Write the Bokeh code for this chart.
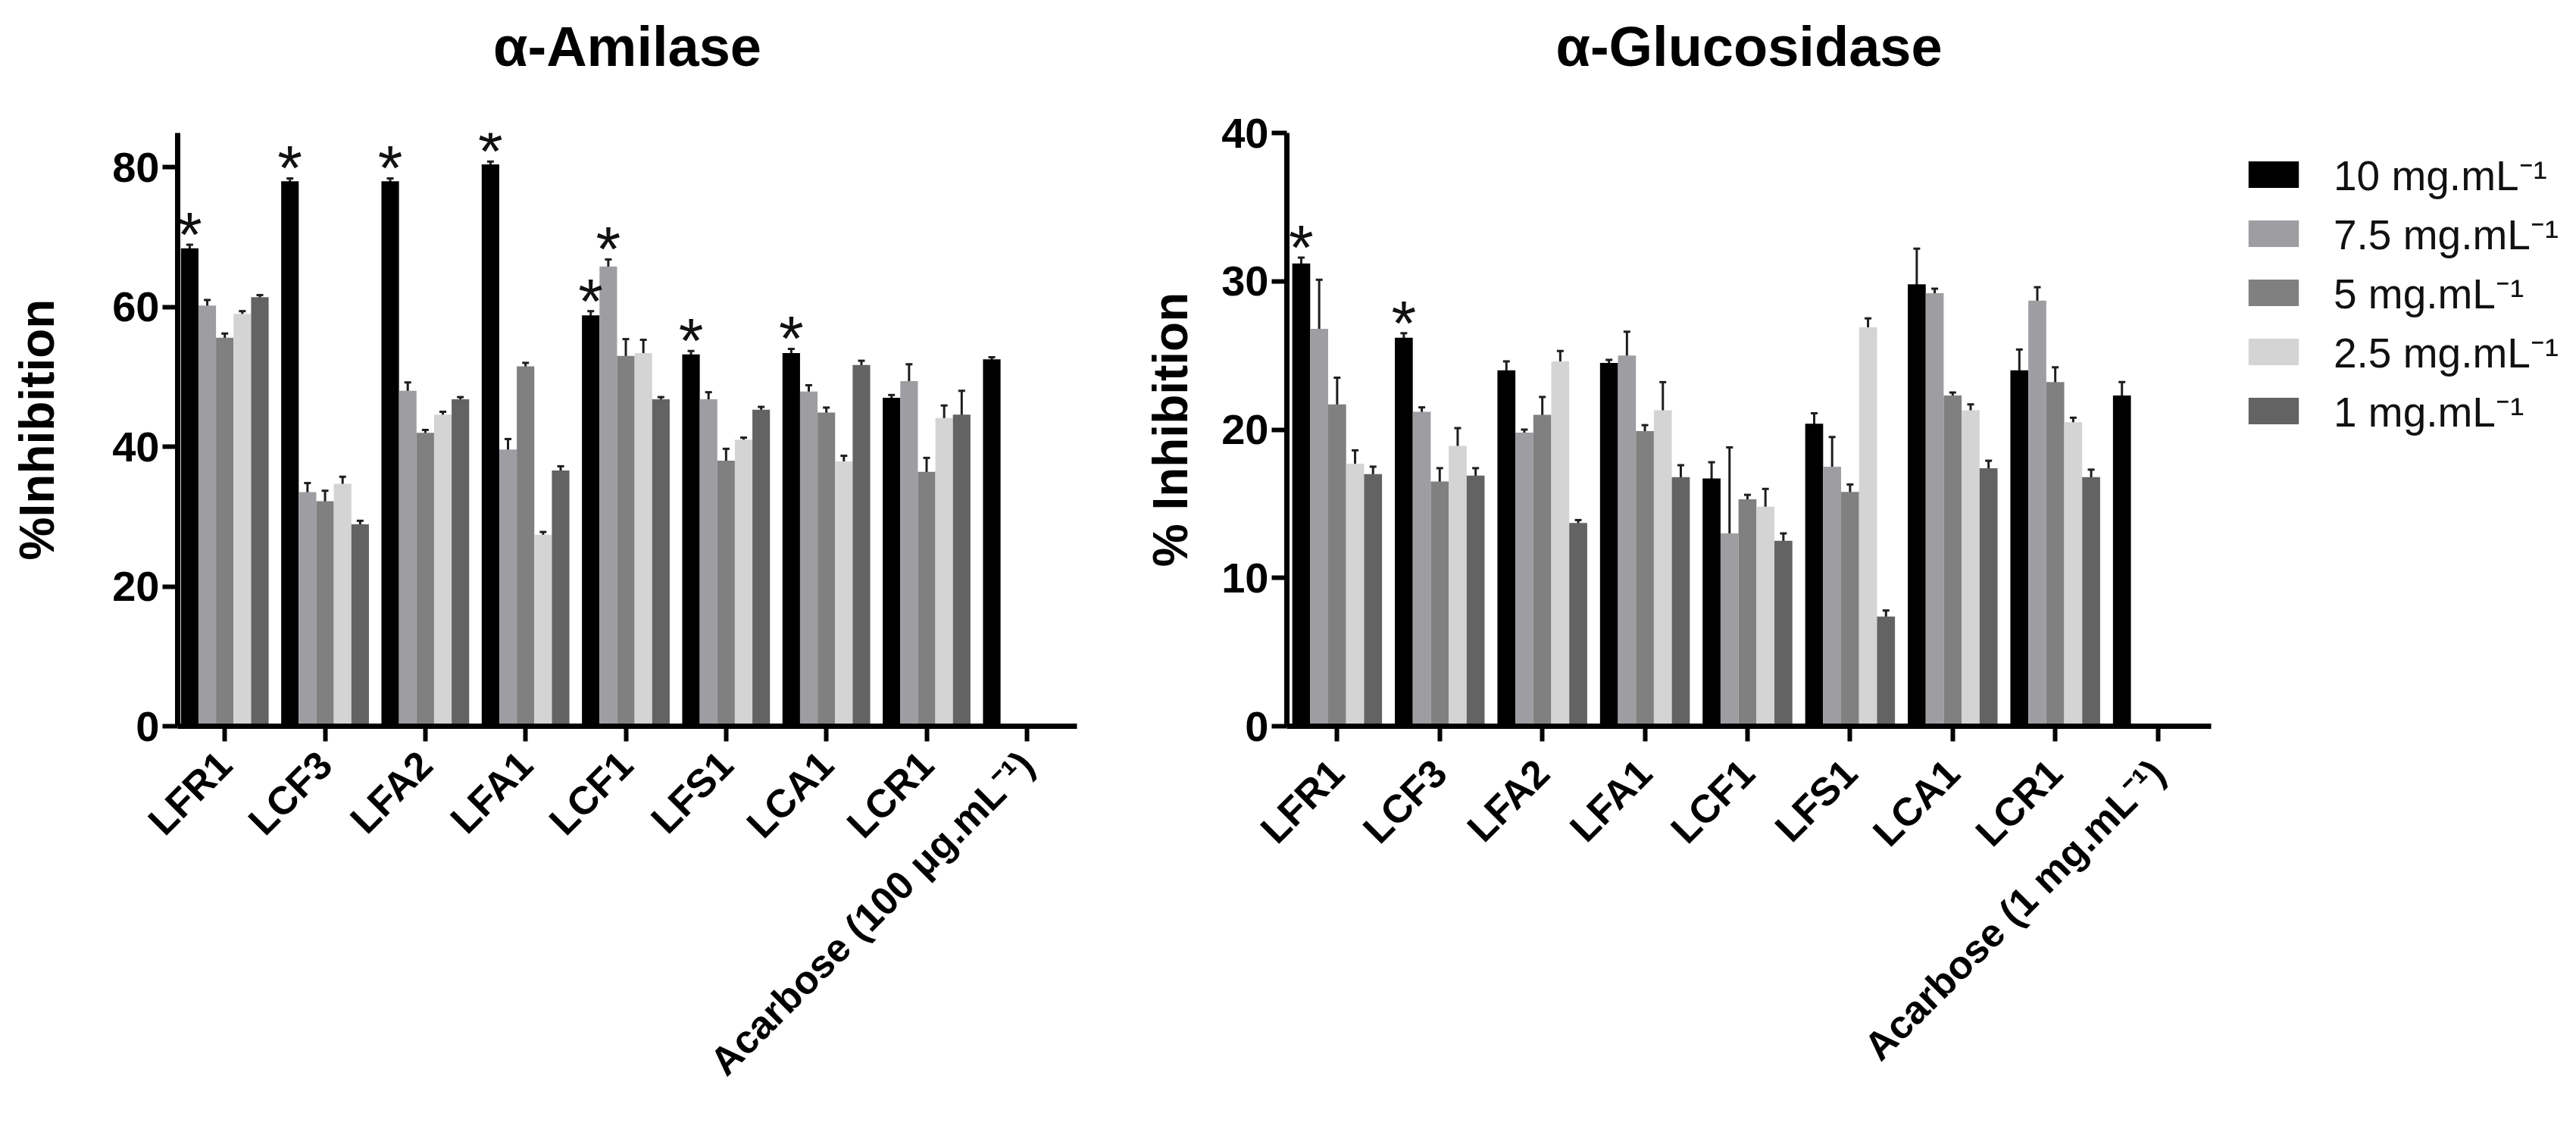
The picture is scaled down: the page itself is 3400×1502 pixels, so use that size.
import math
from bokeh.plotting import figure
from bokeh.layouts import row
from bokeh.models import (ColumnDataSource, FixedTicker, Whisker, TeeHead, Legend,
                          LegendItem, Title)
from bokeh.core.properties import value
from bokeh.embed import file_html
from bokeh.resources import INLINE

# ---------------- data ----------------
series_labels = ["10 mg.mL\u207b\u00b9", "7.5 mg.mL\u207b\u00b9", "5 mg.mL\u207b\u00b9",
                 "2.5 mg.mL\u207b\u00b9", "1 mg.mL\u207b\u00b9"]
series_colors = ["#000000", "#9e9ea2", "#808080", "#d4d4d4", "#636363"]

amy_cats = ["LFR1", "LCF3", "LFA2", "LFA1", "LCF1", "LFS1", "LCA1", "LCR1",
            "Acarbose (100 \u03bcg.mL\u207b\u00b9)"]
amy_10 = [68.4, 78.0, 78.0, 80.4, 58.8, 53.2, 53.4, 47.0, 52.5]
amy_10_err = [0.5, 0.4, 0.4, 0.4, 0.6, 0.5, 0.6, 0.4, 0.3]
amy_75 = [60.2, 33.5, 48.0, 39.6, 65.8, 46.8, 47.9, 49.4]
amy_75_err = [0.8, 1.3, 1.2, 1.5, 1.0, 1.0, 0.9, 2.4]
amy_5 = [55.6, 32.2, 42.0, 51.5, 53.0, 38.0, 44.9, 36.4]
amy_5_err = [0.6, 1.5, 0.4, 0.5, 2.4, 1.7, 0.7, 2.0]
amy_25 = [59.0, 34.7, 44.6, 27.4, 53.4, 41.0, 37.9, 44.1]
amy_25_err = [0.4, 1.0, 0.4, 0.4, 1.9, 0.3, 0.8, 1.8]
amy_1 = [61.4, 28.9, 46.8, 36.6, 46.8, 45.3, 51.7, 44.6]
amy_1_err = [0.3, 0.5, 0.3, 0.6, 0.3, 0.4, 0.6, 3.4]
amy_star_10 = [1, 1, 1, 1, 1, 1, 1, 0, 0]
amy_star_75 = [0, 0, 0, 0, 1, 0, 0, 0]

glu_cats = ["LFR1", "LCF3", "LFA2", "LFA1", "LCF1", "LFS1", "LCA1", "LCR1",
            "Acarbose (1 mg.mL\u207b\u00b9)"]
glu_10 = [31.2, 26.2, 24.0, 24.5, 16.7, 20.4, 29.8, 24.0, 22.3]
glu_10_err = [0.4, 0.3, 0.6, 0.2, 1.1, 0.7, 2.4, 1.4, 0.9]
glu_75 = [26.8, 21.2, 19.8, 25.0, 13.0, 17.5, 29.2, 28.7]
glu_75_err = [3.3, 0.3, 0.2, 1.6, 5.8, 2.0, 0.3, 0.9]
glu_5 = [21.7, 16.5, 21.0, 19.9, 15.3, 15.8, 22.3, 23.2]
glu_5_err = [1.8, 0.9, 1.2, 0.4, 0.3, 0.5, 0.2, 1.0]
glu_25 = [17.7, 18.9, 24.6, 21.3, 14.8, 26.9, 21.3, 20.5]
glu_25_err = [0.9, 1.2, 0.7, 1.9, 1.2, 0.6, 0.4, 0.3]
glu_1 = [17.0, 16.9, 13.7, 16.8, 12.5, 7.4, 17.4, 16.8]
glu_1_err = [0.5, 0.5, 0.2, 0.8, 0.5, 0.4, 0.5, 0.5]
glu_star_10 = [1, 1, 0, 0, 0, 0, 0, 0, 0]
glu_star_75 = [0, 0, 0, 0, 0, 0, 0, 0]

amy_ticks = [0, 20, 40, 60, 80]
glu_ticks = [0, 10, 20, 30, 40]

FONT = "Liberation Sans"
BAR_W = 0.175
H = 1486          # canvas height of every panel
TOP = 175         # common top border (frames of a row are aligned)
BOTTOM = 528      # common bottom border


def make_fig(title, ylabel, cats, vals, errs, stars, yticks, ymax, xr,
             width, bl, br, label_standoff, xl_standoff):
    p = figure(width=width, height=H, x_range=xr, y_range=(0, ymax),
               output_backend="svg", toolbar_location=None,
               min_border_left=bl, min_border_right=br,
               min_border_top=TOP, min_border_bottom=BOTTOM)
    p.outline_line_color = None
    p.xgrid.visible = False
    p.ygrid.visible = False
    p.background_fill_color = "white"
    p.border_fill_color = "white"

    renderers = []
    for k, (v, e) in enumerate(zip(vals, errs)):
        xs = [i + (k - 2) * BAR_W for i in range(len(v))]
        src = ColumnDataSource(dict(x=xs, top=v, up=[a + b for a, b in zip(v, e)],
                                    lo=[a - b for a, b in zip(v, e)]))
        r = p.vbar(x="x", top="top", bottom=0, width=BAR_W, source=src,
                   fill_color=series_colors[k], line_color=None)
        renderers.append(r)
        w = Whisker(base="x", upper="up", lower="lo", source=src, dimension="height",
                    line_color="#1e1e1e", line_width=3,
                    upper_head=TeeHead(size=9, line_width=3, line_color="#1e1e1e"),
                    lower_head=TeeHead(size=9, line_width=3, line_color="#1e1e1e"))
        p.add_layout(w)

    # significance stars
    sx, sy = [], []
    for k, flags in stars:
        for i, f in enumerate(flags):
            if f:
                sx.append(i + (k - 2) * BAR_W)
                sy.append(vals[k][i] + errs[k][i])
    p.text(x=sx, y=sy, text=["*"] * len(sx), text_align="center",
           text_baseline="alphabetic", y_offset=-13,
           text_font=value(FONT), text_font_size="84px", text_color="#111111")

    # spacer between frame and title (keeps title high without moving the frame)
    p.add_layout(Title(text=" ", text_font_size="2px", standoff=57), "above")
    p.title.text = title
    p.title.align = "center"
    p.title.text_font = FONT
    p.title.text_font_size = "74px"
    p.title.text_font_style = "bold"
    p.title.text_color = "black"
    p.title.standoff = 24

    for ax in (p.xaxis[0], p.yaxis[0]):
        ax.axis_line_width = 7
        ax.axis_line_color = "black"
        ax.major_tick_line_width = 6
        ax.major_tick_line_color = "black"
        ax.major_tick_out = 20
        ax.major_tick_in = 0
        ax.minor_tick_line_color = None
        ax.major_label_text_font = FONT
        ax.major_label_text_font_style = "bold"
        ax.major_label_text_color = "black"

    p.yaxis.ticker = FixedTicker(ticks=yticks)
    p.yaxis.major_label_text_font_size = "56px"
    p.yaxis.major_label_standoff = 4
    p.yaxis.axis_label = ylabel
    p.yaxis.axis_label_text_font = FONT
    p.yaxis.axis_label_text_font_size = "64px"
    p.yaxis.axis_label_text_font_style = "bold"
    p.yaxis.axis_label_text_color = "black"
    p.yaxis.axis_label_standoff = label_standoff

    p.xaxis.ticker = FixedTicker(ticks=list(range(len(cats))))
    p.xaxis.major_label_overrides = {i: c for i, c in enumerate(cats)}
    p.xaxis.major_label_orientation = math.pi / 4
    p.xaxis.major_label_text_font_size = "52px"
    p.xaxis.major_label_standoff = xl_standoff
    return p, renderers


p1, _ = make_fig("\u03b1-Amilase", "%Inhibition", amy_cats,
                 [amy_10, amy_75, amy_5, amy_25, amy_1],
                 [amy_10_err, amy_75_err, amy_5_err, amy_25_err, amy_1_err],
                 [(0, amy_star_10), (1, amy_star_75)],
                 amy_ticks, 84.9, (-0.47, 8.5),
                 1480, 234, 59, 60, 22)

p2, _ = make_fig("\u03b1-Glucosidase", "% Inhibition", glu_cats,
                 [glu_10, glu_75, glu_5, glu_25, glu_1],
                 [glu_10_err, glu_75_err, glu_5_err, glu_25_err, glu_1_err],
                 [(0, glu_star_10), (1, glu_star_75)],
                 glu_ticks, 40, (-0.49, 8.52),
                 1458, 218, 20, 28, 33)

# legend panel (its frame shares top/bottom with the two charts)
p3 = figure(width=446, height=H, x_range=(0, 1), y_range=(0, 1),
            x_axis_type=None, y_axis_type=None, output_backend="svg",
            toolbar_location=None, min_border_left=4, min_border_top=TOP,
            min_border_right=0, min_border_bottom=BOTTOM)
p3.outline_line_color = None
p3.background_fill_color = "white"
p3.border_fill_color = "white"
# one off-screen bar per series, only so that the legend can show its swatch
leg_rends = [p3.vbar(x=[5], top=[0.5], width=0.1, fill_color=c, line_color=None)
             for c in series_colors]
legend = Legend(items=[LegendItem(label=lab, renderers=[r])
                       for lab, r in zip(series_labels, leg_rends)],
                location="top_left", orientation="vertical",
                glyph_width=83, glyph_height=44, label_height=44,
                label_standoff=38, spacing=3, padding=0, margin=17,
                border_line_color=None, background_fill_alpha=0,
                label_text_font=FONT, label_text_font_size="55px",
                label_text_color="#111111")
p3.add_layout(legend, "center")

layout = row(p1, p2, p3)
open("out.html", "w").write(file_html(layout, INLINE))
